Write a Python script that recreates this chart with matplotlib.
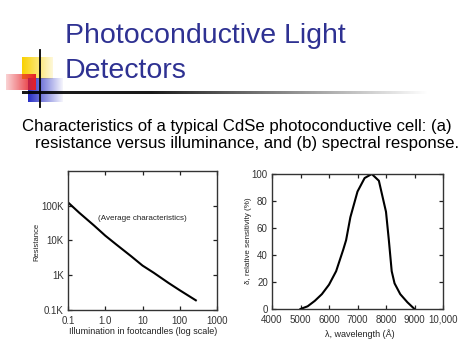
import numpy as np
import matplotlib
matplotlib.use("Agg")
import matplotlib.pyplot as plt

W, H = 474, 355

# ── data ─────────────────────────────────────────────────────────────────────
illum = [0.1, 0.2, 0.5, 1, 2, 5, 10, 20, 50, 100, 270]                     # footcandles
resist = [125000, 63000, 27000, 13800, 7600, 3500, 1900, 1180, 600, 370, 190]  # ohms
res_ticks = [100, 1000, 10000, 100000]
res_labels = ["0.1K", "1K", "10K", "100K"]
ill_ticks = [0.1, 1, 10, 100, 1000]
ill_labels = ["0.1", "1.0", "10", "100", "1000"]

wavelength = [5000, 5250, 5500, 5750, 6000, 6250, 6500, 6600, 6750, 7000,
              7250, 7500, 7750, 8000, 8100, 8200, 8300, 8500, 8750, 9000]
sensitivity = [0, 2, 6, 11, 18, 28, 44, 51, 68, 87,
               97, 100, 95, 72, 51, 28, 19, 11, 5, 0]
wl_ticks = [4000, 5000, 6000, 7000, 8000, 9000, 10000]
wl_labels = ["4000", "5000", "6000", "7000", "8000", "9000", "10,000"]
sens_ticks = [0, 20, 40, 60, 80, 100]

TITLE = "#2E3192"
INK = "#222222"
SANS = "Liberation Sans"


def fx(px):
    return px / W


def fy(py):
    return 1 - py / H


fig = plt.figure(figsize=(W / 100, H / 100), dpi=100, facecolor="white")

# ── slide decoration (pixel space) ───────────────────────────────────────────
bg = fig.add_axes([0, 0, 1, 1])
bg.axis("off")


def grad(ax, x0, x1, y0, y1, rgb, a0, a1):
    g = np.zeros((2, 64, 4))
    g[..., :3] = rgb
    g[..., 3] = np.linspace(a0, a1, 64)
    ax.imshow(g, extent=(x0, x1, y1, y0), aspect="auto", interpolation="bilinear", zorder=1)


grad(bg, 22, 53, 57, 79, (0.98, 0.82, 0.0), 1.0, 0.15)
grad(bg, 28, 63, 78, 102, (0.15, 0.18, 0.78), 1.0, 0.05)
grad(bg, 6, 36, 74, 90, (0.9, 0.12, 0.15), 0.2, 1.0)
bg.plot([40, 40], [50, 107], color="black", lw=1.3, zorder=3)
hl = np.zeros((2, 128, 4))
hl[..., 3] = np.concatenate([np.full(40, 0.9), np.linspace(0.9, 0.0, 88)])
bg.imshow(hl, extent=(22, 430, 94, 91.5), aspect="auto", interpolation="bilinear", zorder=2)
bg.set_xlim(0, W)
bg.set_ylim(H, 0)

fig.text(fx(65), fy(43), "Photoconductive Light", color=TITLE, fontsize=20.5,
         family=SANS, va="baseline")
fig.text(fx(65), fy(78), "Detectors", color=TITLE, fontsize=20.5,
         family=SANS, va="baseline")
fig.text(fx(22), fy(131), "Characteristics of a typical CdSe photoconductive cell: (a)",
         color="black", fontsize=12.1, family=SANS, va="baseline")
fig.text(fx(35), fy(148), "resistance versus illuminance, and (b) spectral response.",
         color="black", fontsize=12.1, family=SANS, va="baseline")


def style(ax):
    ax.minorticks_off()
    ax.tick_params(which="both", direction="in", top=True, right=True, length=3,
                   width=0.9, colors=INK, labelsize=7)
    ax.tick_params(axis="x", pad=4)
    ax.tick_params(axis="y", pad=3)
    for s in ax.spines.values():
        s.set_linewidth(1.0)
        s.set_color("#333333")
    for lab in ax.get_xticklabels() + ax.get_yticklabels():
        lab.set_family(SANS)
        lab.set_color("#333333")


# ── (a) resistance vs illumination ──────────────────────────────────────────
ax1 = fig.add_axes([fx(68), fy(310), fx(217) - fx(68), fy(171) - fy(310)])
ax1.plot(illum, resist, color="black", lw=1.5)
ax1.set_xscale("log")
ax1.set_yscale("log")
ax1.set_xlim(0.1, 1000)
ax1.set_ylim(100, 1e6)
ax1.set_xticks(ill_ticks, ill_labels)
ax1.set_yticks(res_ticks, res_labels)
style(ax1)
ax1.text(0.5, 0.66, "(Average characteristics)", transform=ax1.transAxes,
         ha="center", va="center", fontsize=5.8, color=INK, family=SANS)
fig.text(fx(143), fy(331), "Illumination in footcandles (log scale)", ha="center",
         va="center", fontsize=6.5, color=INK, family=SANS)
fig.text(fx(37), fy(242), "Resistance", rotation=90, ha="center", va="center",
         fontsize=5.5, color=INK, family=SANS)

# ── (b) spectral response ───────────────────────────────────────────────────
ax2 = fig.add_axes([fx(272), fy(309), fx(443) - fx(272), fy(174) - fy(309)])
ax2.plot(wavelength, sensitivity, color="black", lw=1.5)
ax2.set_xlim(4000, 10000)
ax2.set_ylim(0, 100)
ax2.set_xticks(wl_ticks, wl_labels)
ax2.set_yticks(sens_ticks)
style(ax2)
fig.text(fx(360), fy(334), "λ, wavelength (Å)", ha="center", va="center",
         fontsize=6.5, color=INK, family=SANS)
fig.text(fx(248), fy(241), "δ, relative sensitivity (%)", rotation=90, ha="center",
         va="center", fontsize=5.8, color=INK, family=SANS)

fig.savefig("out.png", dpi=100, facecolor="white")
